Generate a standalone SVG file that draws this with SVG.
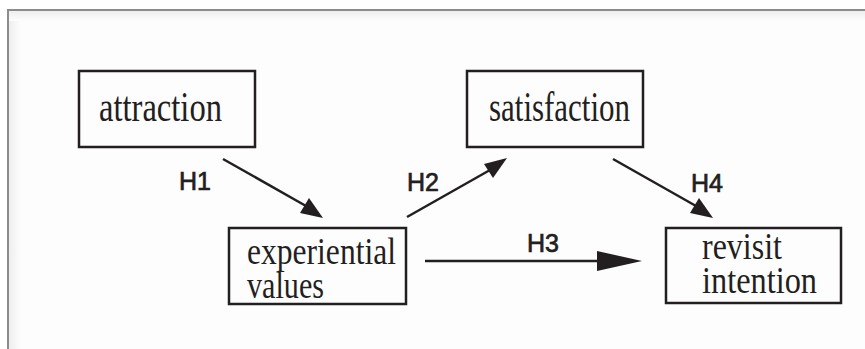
<svg xmlns="http://www.w3.org/2000/svg" width="865" height="349" viewBox="0 0 865 349">
  <defs>
    <linearGradient id="shadeL" x1="0" y1="0" x2="1" y2="0">
      <stop offset="0" stop-color="#eeeeee"/>
      <stop offset="1" stop-color="#fdfdfd"/>
    </linearGradient>
    <linearGradient id="shadeT" x1="0" y1="0" x2="0" y2="1">
      <stop offset="0" stop-color="#eeeeee"/>
      <stop offset="1" stop-color="#fdfdfd"/>
    </linearGradient>
  </defs>
  <style>
    .box { fill: none; stroke: #231f20; stroke-width: 2.5; }
    .lbl { font-family: "Liberation Serif", "Times New Roman", serif; font-size: 42px; fill: #231f20; }
    .lbl2 { font-family: "Liberation Serif", "Times New Roman", serif; font-size: 38px; fill: #231f20; }
    .h { font-family: "Liberation Sans", Arial, sans-serif; font-size: 25px; fill: #231f20; stroke: #231f20; stroke-width: 0.7; text-anchor: middle; }
    .conn { stroke: #231f20; stroke-width: 2.5; fill: none; }
    .head { fill: #231f20; stroke: none; }
  </style>
  <rect x="0" y="0" width="865" height="349" fill="#ffffff"/>
  <rect x="9" y="11" width="856" height="338" fill="#fdfdfd"/>
  <rect x="9" y="11" width="12" height="338" fill="url(#shadeL)"/>
  <rect x="9" y="11" width="856" height="10" fill="url(#shadeT)"/>
  <path d="M8 349 V10 H865" fill="none" stroke="#8c8c8c" stroke-width="2"/>

  <g id="attraction">
    <rect class="box" x="79" y="71" width="176" height="76"/>
    <text class="lbl" x="99" y="121" textLength="123" lengthAdjust="spacingAndGlyphs">attraction</text>
  </g>
  <g id="satisfaction">
    <rect class="box" x="467" y="71" width="176" height="76"/>
    <text class="lbl" x="489" y="121" textLength="141" lengthAdjust="spacingAndGlyphs">satisfaction</text>
  </g>
  <g id="experiential-values">
    <rect class="box" x="229" y="228" width="177" height="76"/>
    <text class="lbl2" x="247" y="264" textLength="149" lengthAdjust="spacingAndGlyphs">experiential</text>
    <text class="lbl2" x="247" y="298" textLength="77" lengthAdjust="spacingAndGlyphs">values</text>
  </g>
  <g id="revisit-intention">
    <rect class="box" x="666" y="228" width="175" height="75"/>
    <text class="lbl2" x="702" y="259" textLength="80" lengthAdjust="spacingAndGlyphs">revisit</text>
    <text class="lbl2" x="702" y="293" textLength="115" lengthAdjust="spacingAndGlyphs">intention</text>
  </g>

  <g id="connectors">
    <g id="h1">
      <line class="conn" x1="223" y1="159" x2="306" y2="206"/>
      <polygon class="head" points="323,218 309,198 300,213"/>
      <text class="h" x="195" y="190">H1</text>
    </g>
    <g id="h2">
      <line class="conn" x1="407" y1="217" x2="490" y2="170"/>
      <polygon class="head" points="507,158 484,164 493,178"/>
      <text class="h" x="423" y="191">H2</text>
    </g>
    <g id="h3">
      <line class="conn" x1="425" y1="261" x2="600" y2="261"/>
      <polygon class="head" points="642,261 597,251 597,271"/>
      <text class="h" x="543" y="252">H3</text>
    </g>
    <g id="h4">
      <line class="conn" x1="613" y1="159" x2="696" y2="206"/>
      <polygon class="head" points="713,218 699,198 690,213"/>
      <text class="h" x="707" y="192">H4</text>
    </g>
  </g>
</svg>
